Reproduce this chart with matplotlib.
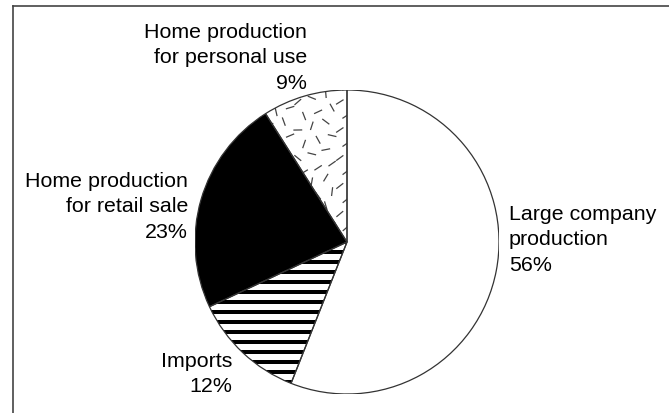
import numpy as np
import matplotlib
matplotlib.use('Agg')
import matplotlib.pyplot as plt
from matplotlib.lines import Line2D
from matplotlib.patches import Rectangle, Wedge

plt.rcParams['font.family'] = ['Liberation Sans', 'DejaVu Sans']

# slices, clockwise from 12 o'clock
labels = ['Large company\nproduction', 'Imports',
          'Home production\nfor retail sale', 'Home production\nfor personal use']
shares = [56, 12, 23, 9]

W, H = 669, 414
fig = plt.figure(figsize=(W / 100, H / 100), dpi=100)

# pie centre and radius in pixels
cx, cy, r = 347, 243, 152
ax = fig.add_axes([(cx - r) / W, (H - cy - r) / H, 2 * r / W, 2 * r / H])

wedges, _ = ax.pie(shares, startangle=90, counterclock=False, radius=1,
                   colors=['white', 'white', 'black', 'white'],
                   wedgeprops=dict(edgecolor='none', linewidth=0))
# pie() resets the limits, so set them afterwards
ax.set_xlim(-1, 1)
ax.set_ylim(-1, 1)
ax.set_aspect('equal')
ax.axis('off')

# horizontal stripes on imports
imp = wedges[1]
for yb in np.arange(-1.0, 0.1, 10 / r):
    band = Rectangle((-1.1, yb), 2.2, 4.5 / r, facecolor='black', edgecolor='none', zorder=2)
    ax.add_patch(band)
    band.set_clip_path(imp)

# dash texture on personal use slice
pers = wedges[3]
step = 14 / r
dl = 3.8 / r
for i, xx in enumerate(np.arange(-0.6, 0.02, step)):
    for j, yy in enumerate(np.arange(0.0, 1.02, step)):
        ang = np.deg2rad((i * 67 + j * 41 + (i * j) * 23) % 180)
        x0 = xx + (j % 2) * step * 0.45
        y0 = yy + (i % 3) * step * 0.3
        ln = Line2D([x0 - dl * np.cos(ang), x0 + dl * np.cos(ang)],
                    [y0 - dl * np.sin(ang), y0 + dl * np.sin(ang)],
                    color='#444444', linewidth=0.9, zorder=2)
        ax.add_line(ln)
        ln.set_clip_path(pers)

# wedge outlines on top
for w in wedges:
    ax.add_patch(Wedge(w.center, w.r, w.theta1, w.theta2, facecolor='none',
                       edgecolor='#333333', linewidth=0.9, zorder=3))

def px(x, y):
    return (x - cx) / r, (cy - y) / r

fs = 15.4
ls = 1.42
tx, ty = px(509, 205)
ax.text(tx, ty, f'{labels[0]}\n{shares[0]}%', ha='left', va='top', fontsize=fs,
        linespacing=ls, multialignment='left')
tx, ty = px(232, 352)
ax.text(tx, ty, f'{labels[1]}\n{shares[1]}%', ha='right', va='top', fontsize=fs,
        linespacing=ls, multialignment='right')
tx, ty = px(188, 172)
ax.text(tx, ty, f'{labels[2]}\n{shares[2]}%', ha='right', va='top', fontsize=fs,
        linespacing=ls, multialignment='right')
tx, ty = px(307, 23)
ax.text(tx, ty, f'{labels[3]}\n{shares[3]}%', ha='right', va='top', fontsize=fs,
        linespacing=ls, multialignment='right')

# partial frame (top and left edges)
fig.add_artist(Line2D([12.5 / W, 1], [1 - 6.5 / H, 1 - 6.5 / H], color='#444444', linewidth=1.2))
fig.add_artist(Line2D([12.5 / W, 12.5 / W], [0, 1 - 6.5 / H], color='#444444', linewidth=1.2))

fig.savefig('out.png', dpi=100, facecolor='white')
